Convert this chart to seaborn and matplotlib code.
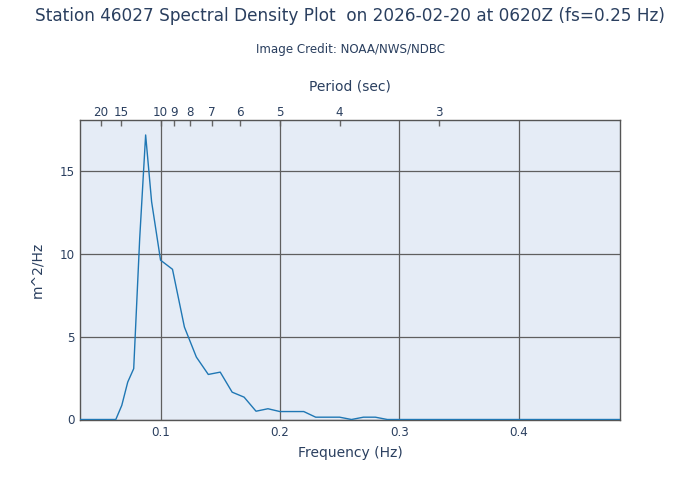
import matplotlib
matplotlib.use("Agg")
import matplotlib.pyplot as plt
import seaborn as sns
import pandas as pd

freq = [0.0325, 0.0375, 0.0425, 0.0475, 0.0525, 0.0575, 0.0625, 0.0675, 0.0725,
        0.0775, 0.0825, 0.0875, 0.0925, 0.1000, 0.1100, 0.1200, 0.1300, 0.1400,
        0.1500, 0.1600, 0.1700, 0.1800, 0.1900, 0.2000, 0.2100, 0.2200, 0.2300,
        0.2400, 0.2500, 0.2600, 0.2700, 0.2800, 0.2900, 0.3000, 0.3100, 0.3200,
        0.3300, 0.3400, 0.3500, 0.3650, 0.3850, 0.4050, 0.4250, 0.4450, 0.4650,
        0.4850]
density = [0, 0, 0, 0, 0, 0, 0, 0.85, 2.26,
           3.07, 10.9, 17.18, 13.15, 9.62, 9.07, 5.58, 3.77, 2.72,
           2.86, 1.65, 1.35, 0.50, 0.65, 0.48, 0.48, 0.48, 0.14,
           0.14, 0.14, 0.0, 0.14, 0.14, 0.0, 0, 0, 0,
           0, 0, 0, 0, 0, 0, 0, 0, 0,
           0]
x_ticks = [0.1, 0.2, 0.3, 0.4]
y_ticks = [0, 5, 10, 15]
period_ticks = [20, 15, 10, 9, 8, 7, 6, 5, 4, 3]

title = "Station 46027 Spectral Density Plot  on 2026-02-20 at 0620Z (fs=0.25 Hz)"
subtitle = "Image Credit: NOAA/NWS/NDBC"

TXT = "#2a3f5f"
BG = "#e5ecf6"
GRID = "#5f5f5f"

sns.set_theme(style="white")
plt.rcParams["font.family"] = ["DejaVu Sans"]

df = pd.DataFrame({"freq": freq, "density": density})

fig = plt.figure(figsize=(7, 5), dpi=100)
ax = fig.add_axes([80/700, 1 - 419.5/500, 540/700, 299.5/500])
ax.set_facecolor(BG)

sns.lineplot(data=df, x="freq", y="density", ax=ax, color="#1f77b4", linewidth=1.0, zorder=3)

ax.set_xlim(min(freq), max(freq))
ax.set_ylim(0, max(density) * 1.0526)
ax.set_xticks(x_ticks)
ax.set_xticklabels([f"{t:g}" for t in x_ticks])
ax.set_yticks(y_ticks)
ax.set_yticklabels([str(t) for t in y_ticks])
ax.grid(True, color=GRID, linewidth=0.9, zorder=1)
ax.set_axisbelow(True)
ax.tick_params(axis="both", length=0, labelsize=8.6, labelcolor=TXT)
ax.tick_params(axis="x", pad=5)
ax.tick_params(axis="y", pad=4)
for s in ax.spines.values():
    s.set_color("#555555")
    s.set_linewidth(1.0)
    s.set_visible(True)

ax.set_xlabel("Frequency (Hz)", fontsize=10, color=TXT, labelpad=5)
ax.set_ylabel("m^2/Hz", fontsize=10, color=TXT, labelpad=11)

top = ax.secondary_xaxis("top", functions=(lambda f: f, lambda f: f))
top.set_xticks([1.0 / p for p in period_ticks])
top.set_xticklabels([str(p) for p in period_ticks])
top.tick_params(axis="x", direction="in", length=4, width=1, color="#666666",
                labelsize=8.6, labelcolor=TXT, pad=1)
top.spines["top"].set_visible(False)
top.set_xlabel("Period (sec)", fontsize=10, color=TXT, labelpad=11)

fig.text(0.5, 1 - 16/500, title, ha="center", va="center", fontsize=12.2, color=TXT)
fig.text(0.5, 1 - 50/500, subtitle, ha="center", va="center", fontsize=8.6, color=TXT)

fig.savefig("out.png", dpi=100)
